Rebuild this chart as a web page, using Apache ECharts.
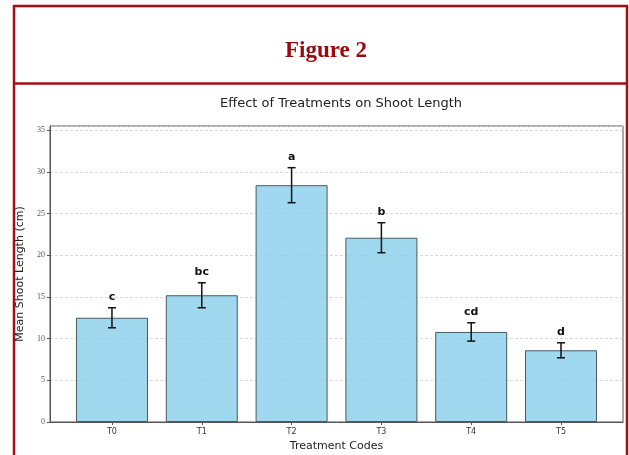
<!DOCTYPE html>
<html>
<head>
<meta charset="utf-8">
<script src="https://cdn.jsdelivr.net/npm/echarts@6/dist/echarts.min.js"></script>
<style>
html,body{margin:0;padding:0;background:#fff;}
#chart{width:629px;height:455px;}
</style>
</head>
<body>
<div id="chart"></div>
<script>
const categories = ['T0', 'T1', 'T2', 'T3', 'T4', 'T5'];
const means = [12.5, 15.2, 28.4, 22.1, 10.8, 8.6];
const errors = [1.2, 1.5, 2.1, 1.8, 1.1, 0.9];
const letters = ['c', 'bc', 'a', 'b', 'cd', 'd'];
const yTicks = [0, 5, 10, 15, 20, 25, 30, 35];

const chart = echarts.init(document.getElementById('chart'), null, {renderer: 'canvas'});
const idx = categories.map((c, i) => i);

const option = {
  animation: false,
  backgroundColor: '#fff',
  title: [{
    text: 'Figure 2',
    left: 321, top: 35, textAlign: 'center',
    textStyle: {fontFamily: 'Liberation Serif', fontWeight: 'bold', fontSize: 23, color: '#9b0a0a'}
  }, {
    text: 'Effect of Treatments on Shoot Length',
    left: 336, top: 92, textAlign: 'center',
    textStyle: {fontFamily: 'DejaVu Sans', fontWeight: 'normal', fontSize: 13, color: '#222'}
  }],
  graphic: [
    {type: 'polyline', shape: {points: [[14, 460], [14, 6], [627, 6], [627, 460]]},
     style: {stroke: '#a50e0e', lineWidth: 2.5, fill: null}},
    {type: 'line', shape: {x1: 14, y1: 83.5, x2: 627, y2: 83.5},
     style: {stroke: '#a50e0e', lineWidth: 2.5}}
  ],
  grid: {left: 50, right: 6, top: 126, bottom: 33, show: true, borderColor: '#555', borderWidth: 1,
         outerBoundsMode: 'none', containLabel: false},
  xAxis: {
    type: 'value', min: -0.69, max: 5.69,
    name: 'Treatment Codes', nameLocation: 'middle', nameGap: 18,
    nameTextStyle: {fontFamily: 'DejaVu Sans', fontSize: 11, color: '#222'},
    axisLine: {show: true, onZero: false, lineStyle: {color: '#555'}},
    axisTick: {show: true, customValues: idx, length: 3, lineStyle: {color: '#555'}},
    axisLabel: {customValues: idx, formatter: v => categories[Math.round(v)],
      fontFamily: 'DejaVu Sans', fontSize: 8, color: '#333', margin: 6},
    splitLine: {show: false}
  },
  yAxis: {
    type: 'value', min: 0, max: 35.5, interval: 5,
    name: 'Mean Shoot Length (cm)', nameLocation: 'middle', nameGap: 17,
    nameTextStyle: {fontFamily: 'DejaVu Sans', fontSize: 11, color: '#222'},
    axisLine: {show: true, onZero: false, lineStyle: {color: '#555'}},
    axisTick: {show: true, length: 3, lineStyle: {color: '#555'}},
    axisLabel: {showMaxLabel: false, fontFamily: 'Liberation Serif', fontSize: 8, color: '#555', margin: 5,
      formatter: v => yTicks.includes(v) ? String(v) : ''},
    splitLine: {show: true, lineStyle: {color: '#cfcfcf', type: [3, 2], width: 0.8}}
  },
  series: [{
    type: 'bar',
    data: idx.map(i => [i, means[i]]),
    barWidth: 72,
    itemStyle: {color: 'rgba(135,206,235,0.8)', borderColor: '#4a5a60', borderWidth: 1}
  }, {
    type: 'custom',
    data: idx.map(i => [i, means[i], errors[i], letters[i]]),
    renderItem: function (params, api) {
      const x = api.value(0), m = api.value(1), e = api.value(2);
      const top = api.coord([x, m + e]);
      const bot = api.coord([x, m - e]);
      const cap = 4;
      return {
        type: 'group',
        children: [
          {type: 'line', shape: {x1: top[0], y1: top[1], x2: bot[0], y2: bot[1]}, style: {stroke: '#111', lineWidth: 1.5}},
          {type: 'line', shape: {x1: top[0] - cap, y1: top[1], x2: top[0] + cap, y2: top[1]}, style: {stroke: '#111', lineWidth: 1.5}},
          {type: 'line', shape: {x1: bot[0] - cap, y1: bot[1], x2: bot[0] + cap, y2: bot[1]}, style: {stroke: '#111', lineWidth: 1.5}},
          {type: 'text', x: top[0], y: top[1] - 5,
           style: {text: letters[params.dataIndex], fontFamily: 'DejaVu Sans', fontWeight: 'bold', fontSize: 11,
                   fill: '#111', align: 'center', verticalAlign: 'bottom'}}
        ]
      };
    },
    z: 5
  }]
};
chart.setOption(option);
</script>
</body>
</html>
